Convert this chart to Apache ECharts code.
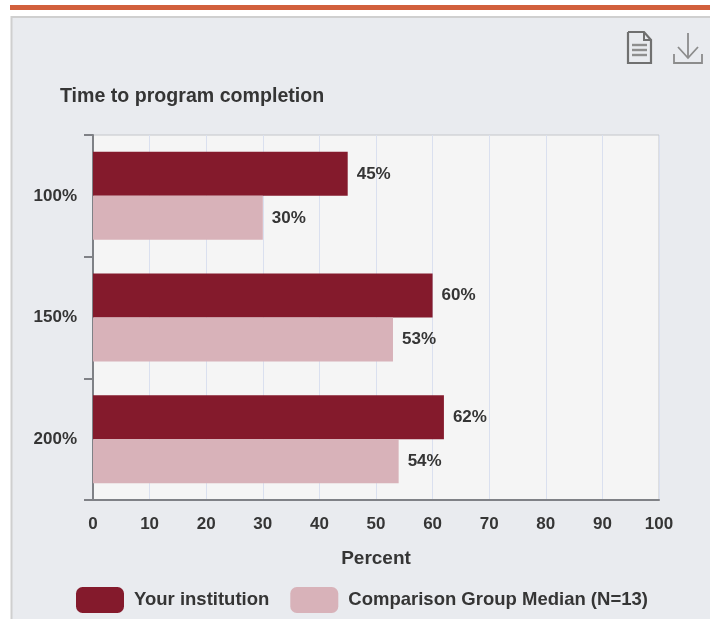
<!DOCTYPE html>
<html><head><meta charset="utf-8">
<style>html,body{margin:0;padding:0;background:#fff}#c{width:710px;height:619px;filter:blur(0.45px)}</style>
<script src="https://cdn.jsdelivr.net/npm/echarts@6/dist/echarts.min.js"></script>
</head><body><div id="c"></div>
<script>
const chartTitle = 'Time to program completion';
const categories = ['100%', '150%', '200%'];
const seriesNames = ['Your institution', 'Comparison Group Median (N=13)'];
const institution = [45, 60, 62];
const comparison = [30, 53, 54];
const font = '"Liberation Sans", Arial, sans-serif';
const ink = '#353535';
const chart = echarts.init(document.getElementById('c'), null, {renderer: 'canvas'});
function strokeLine(points, stroke, lineWidth) {
  return {type: 'polyline', z: 10, shape: {points}, style: {fill: 'none', stroke, lineWidth}};
}
const docIcon = [
  [[[628,32],[644,32],[651,40],[651,63],[628,63],[628,32]], '#707070', 2.2],
  [[[644,32],[644,40],[651,40]], '#707070', 2],
  [[[632,45],[647,45]], '#8e8e8e', 2.4],
  [[[632,50],[647,50]], '#8e8e8e', 2.4],
  [[[632,55],[647,55]], '#8e8e8e', 2.4]
];
const dlIcon = [
  [[[688,33],[688,58]], '#8c8c8c', 1.8],
  [[[678,47],[688,58],[698,47]], '#8c8c8c', 1.8],
  [[[674,54],[674,63],[702,63],[702,54]], '#8c8c8c', 1.8]
];
function barSeries(name, data, color) {
  return {
    name, type: 'bar', data, barWidth: 44, barGap: '0%',
    itemStyle: {color},
    label: {show: true, position: 'right', distance: 9, formatter: '{c}%', fontFamily: font,
      fontWeight: 'bold', fontSize: 17, color: ink}
  };
}
chart.setOption({
  animation: false,
  backgroundColor: '#fff',
  title: {text: chartTitle, left: 55, top: 82, textStyle: {fontFamily: font, fontWeight: 'bold', fontSize: 19.6, color: ink}},
  grid: {left: 93, top: 135, width: 566, height: 365, show: true, backgroundColor: '#f5f5f5', borderColor: '#c4c6ca', borderWidth: 1},
  legend: {
    left: 76, top: 587, padding: 0, itemWidth: 48, itemHeight: 26, itemGap: 21, icon: 'roundRect',
    textStyle: {fontFamily: font, fontWeight: 'bold', fontSize: 18.5, color: ink, padding: [1, 0, 0, 5]},
    data: seriesNames
  },
  xAxis: {
    type: 'value', min: 0, max: 100, interval: 10,
    name: 'Percent', nameLocation: 'middle', nameGap: 49,
    nameTextStyle: {fontFamily: font, fontWeight: 'bold', fontSize: 19, color: ink},
    axisLine: {show: true, lineStyle: {color: '#7f8186', width: 2}},
    axisTick: {show: false},
    axisLabel: {margin: 16, fontFamily: font, fontWeight: 'bold', fontSize: 17, color: ink},
    splitLine: {show: true, lineStyle: {color: '#dae0ef', width: 1}}
  },
  yAxis: {
    type: 'category', inverse: true, data: categories,
    axisLine: {show: true, lineStyle: {color: '#7f8186', width: 2}},
    axisTick: {show: true, length: 9, lineStyle: {color: '#7f8186', width: 2}},
    axisLabel: {margin: 16, fontFamily: font, fontWeight: 'bold', fontSize: 17, color: ink}
  },
  series: [barSeries(seriesNames[0], institution, '#841a2c'), barSeries(seriesNames[1], comparison, '#d8b2b9')],
  graphic: [
    {type: 'rect', z: -10, shape: {x: 10, y: 5, width: 700, height: 5}, style: {fill: '#d2603c'}},
    {type: 'rect', z: -10, shape: {x: 11.5, y: 17, width: 710, height: 610}, style: {fill: '#e9ebef', stroke: '#cfcfcf', lineWidth: 2}},
    ...docIcon.concat(dlIcon).map(([p, s, w]) => strokeLine(p, s, w))
  ]
});
</script></body></html>
